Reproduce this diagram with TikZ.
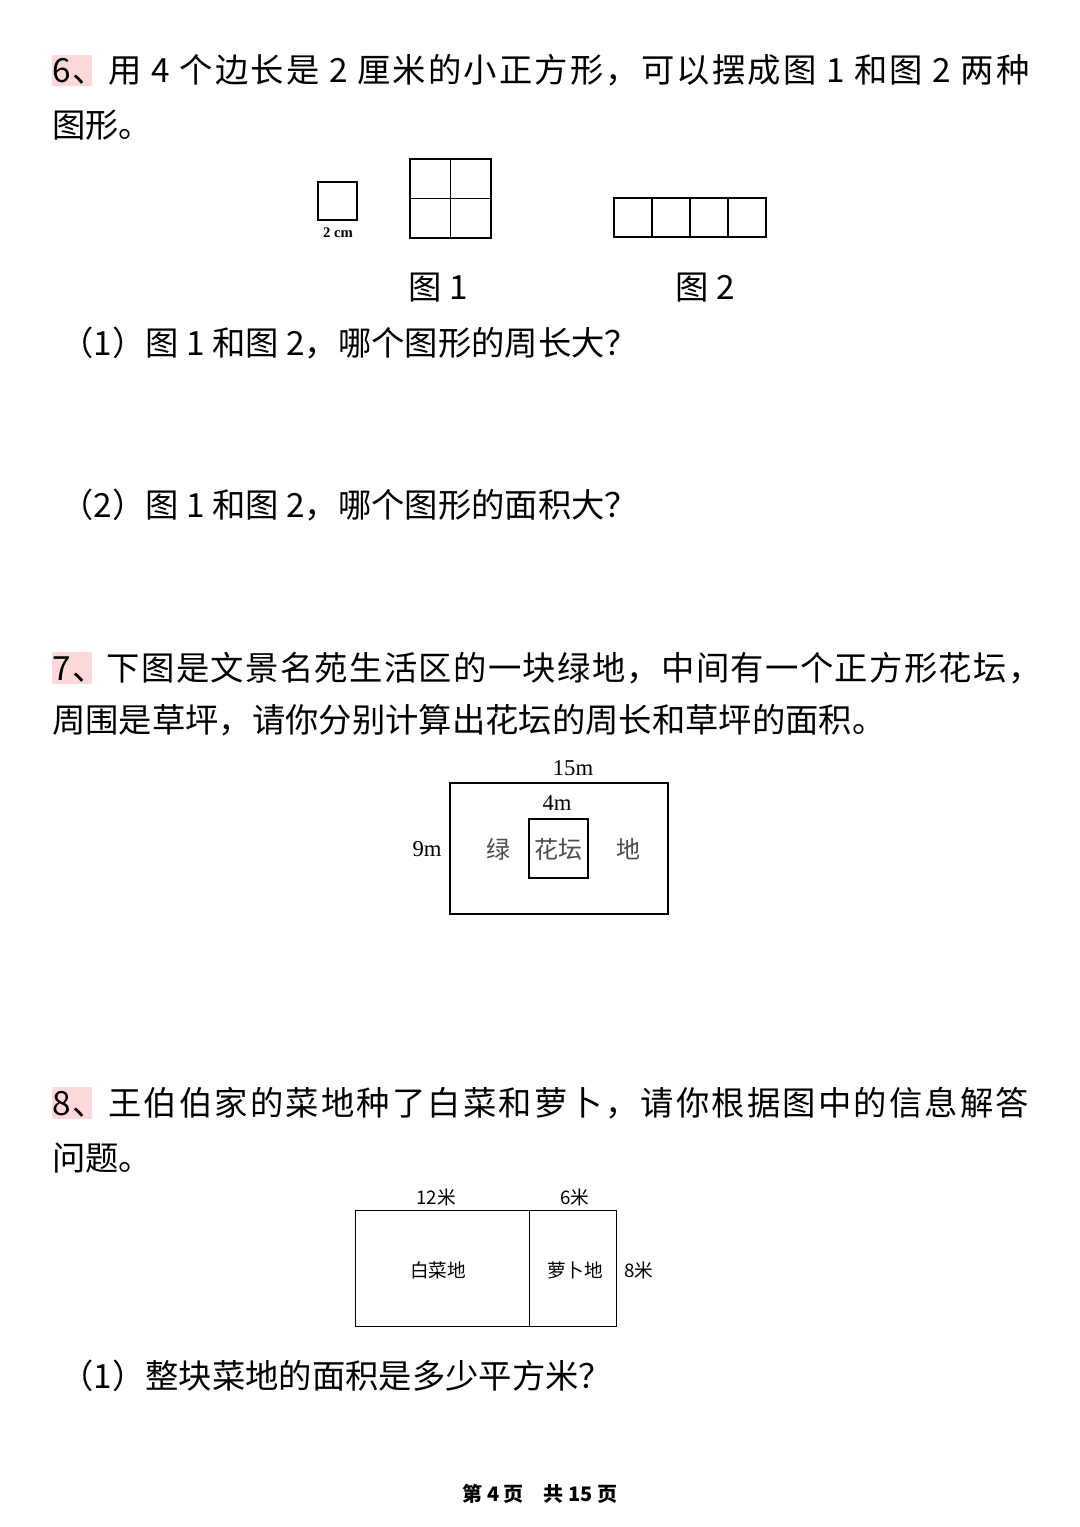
\documentclass[tikz,border=0pt]{standalone}
\usepackage{fontspec}
\setmainfont{Liberation Serif}
\newfontfamily\cjk{Noto Sans CJK SC}
\newfontfamily\cjkwide[LetterSpace=6.5]{Noto Sans CJK SC}
\newfontfamily\cjkmid[LetterSpace=4]{Noto Sans CJK SC}
\usetikzlibrary{positioning}
\tikzset{txt/.style={anchor=west,inner sep=0pt,font=\cjk\fontsize{25}{30}\selectfont},
  wide/.style={font=\cjkwide\fontsize{25}{30}\selectfont},
  mid/.style={font=\cjkmid\fontsize{25}{30}\selectfont},
  lbl/.style={inner sep=0pt,font=\fontsize{17}{20}\selectfont},
  clbl/.style={inner sep=0pt,font=\cjk\fontsize{14}{17}\selectfont},
  inlbl/.style={inner sep=0pt,font=\cjk\fontsize{18}{20}\selectfont,gray!60!black}}
\begin{document}
\begin{tikzpicture}[x=0.75pt,y=-0.75pt]
\useasboundingbox (0,0) rectangle (1080,1527);
% highlights
\fill[pink!60] (52,55) rectangle (92,86);
\fill[pink!60] (52,652) rectangle (92,684);
\fill[pink!60] (52,1087) rectangle (92,1119);
% question 6
\node[txt,wide] (q6a) at (52,70) {6、用 4 个边长是 2 厘米的小正方形，可以摆成图 1 和图 2 两种};
\node[txt] (q6b) at (52,125) {图形。};
\draw[thick] (318,182) rectangle (357,220);
\node[lbl,font=\bfseries\fontsize{11}{13}\selectfont] (unit) at (338,233) {2 cm};
\draw[thick] (410,159) rectangle (491,238) (450.5,159) -- (450.5,238) (410,198.5) -- (491,198.5);
\draw[thick] (614,198) rectangle (766,237);
\foreach \x in {652,690,728} \draw[thick] (\x,198) -- (\x,237);
\node[txt,anchor=center] (f1) at (438,288) {图 1};
\node[txt,anchor=center] (f2) at (705,288) {图 2};
\node[txt] (q61) at (60,343) {（1）图 1 和图 2，哪个图形的周长大？};
\node[txt] (q62) at (60,505) {（2）图 1 和图 2，哪个图形的面积大？};
% question 7
\node[txt,mid] (q7a) at (52,668) {7、下图是文景名苑生活区的一块绿地，中间有一个正方形花坛，};
\node[txt] (q7b) at (52,720) {周围是草坪，请你分别计算出花坛的周长和草坪的面积。};
\draw[thick] (450,783) rectangle (668,914);
\draw[thick] (529,819) rectangle (588,878);
\node[lbl] (w15) at (573,768) {15m};
\node[lbl] (w4) at (557,803) {4m};
\node[lbl] (h9) at (427,849) {9m};
\node[inlbl] (hua) at (558,849) {花坛};
\node[inlbl] (lv) at (498,849) {绿};
\node[inlbl] (di) at (628,849) {地};
% question 8
\node[txt,wide] (q8a) at (52,1103) {8、王伯伯家的菜地种了白菜和萝卜，请你根据图中的信息解答};
\node[txt] (q8b) at (52,1158) {问题。};
\draw (355,1210) rectangle (616,1326) (529,1210) -- (529,1326);
\node[clbl] (w12) at (436,1197) {12米};
\node[clbl] (w6) at (575,1197) {6米};
\node[clbl] (bc) at (438,1270) {白菜地};
\node[clbl] (lb) at (575,1270) {萝卜地};
\node[clbl] (h8) at (639,1270) {8米};
\node[txt] (q81) at (60,1376) {（1）整块菜地的面积是多少平方米？};
\node[inner sep=0pt,font=\cjk\bfseries\fontsize{15}{18}\selectfont] (page) at (540,1494) {第 4 页\quad 共 15 页};
\end{tikzpicture}
\end{document}
